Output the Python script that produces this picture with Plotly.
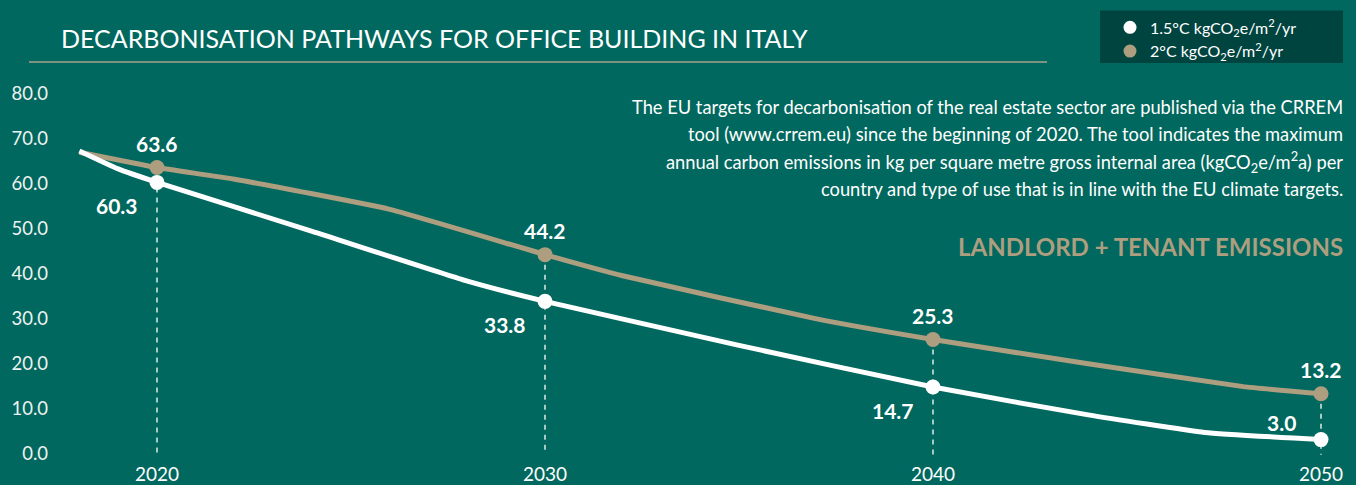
import plotly.graph_objects as go

# ---------------- data ----------------
years_15 = [2018, 2019, 2020, 2024, 2028, 2030, 2035, 2040, 2044, 2047, 2050]
vals_15 = [67.3, 63.3, 60.3, 49.4, 38.3, 33.8, 24.0, 14.7, 8.5, 4.6, 3.0]

years_2 = [2018, 2020, 2022, 2026, 2030, 2032, 2037, 2040, 2044, 2048, 2050]
vals_2 = [67.0, 63.6, 61.0, 54.3, 44.2, 39.5, 29.9, 25.3, 19.9, 14.8, 13.2]

label_years = [2020, 2030, 2040, 2050]
label_15 = [60.3, 33.8, 14.7, 3.0]
label_2 = [63.6, 44.2, 25.3, 13.2]

y_ticks = [0, 10, 20, 30, 40, 50, 60, 70, 80]
y_ticktext = ["0.0", "10.0", "20.0", "30.0", "40.0", "50.0", "60.0", "70.0", "80.0"]
x_ticks = [2020, 2030, 2040, 2050]
x_ticktext = ["2020", "2030", "2040", "2050"]

title_text = "DECARBONISATION PATHWAYS FOR OFFICE BUILDING IN ITALY"
para_lines = [
    "The EU targets for decarbonisation of the real estate sector are published via the CRREM",
    "tool (www.crrem.eu) since the beginning of 2020. The tool indicates the maximum",
    "annual carbon emissions in kg per square metre gross internal area (kgCO<sub>2</sub>e/m<sup>2</sup>a) per",
    "country and type of use that is in line with the EU climate targets.",
]
subtitle = "LANDLORD + TENANT EMISSIONS"
legend_15 = "1.5°C kgCO<sub>2</sub>e/m<sup>2</sup>/yr"
legend_2 = "2°C kgCO<sub>2</sub>e/m<sup>2</sup>/yr"

# ---------------- style ----------------
BG = "#00685E"
DARK = "#00443F"
BEIGE = "#AE9E80"
WHITE = "#FFFFFF"
FONT = "Lato"

W, H = 1356, 485
L, R, T, B = 49, 0, 85, 22
PW, PH = W - L - R, H - T - B
PX_PER_YEAR = 38.8
PX_PER_UNIT = 4.5125
X2020_PX, Y0_PX = 157, 455

x_range = [2020 - (X2020_PX - L) / PX_PER_YEAR, 2020 + (W - R - X2020_PX) / PX_PER_YEAR]
y_range = [-((H - B) - Y0_PX) / PX_PER_UNIT, (Y0_PX - T) / PX_PER_UNIT]


def px_x(px):
    return (px - L) / PW


def px_y(py):
    return ((H - B) - py) / PH


fig = go.Figure()

# dashed drop lines
dx, dy = [], []
for yr, top in zip(label_years, label_2):
    dx += [yr, yr, None]
    dy += [top, -0.4, None]
fig.add_trace(go.Scatter(x=dx, y=dy, mode="lines",
                         line=dict(color=WHITE, width=1.3, dash="5px,5px"),
                         showlegend=False, hoverinfo="skip"))

# lines
fig.add_trace(go.Scatter(x=years_2, y=vals_2, mode="lines",
                         line=dict(color=BEIGE, width=5, shape="spline", smoothing=0.4),
                         showlegend=False))
fig.add_trace(go.Scatter(x=years_15, y=vals_15, mode="lines",
                         line=dict(color=WHITE, width=5, shape="spline", smoothing=0.4),
                         showlegend=False))

# markers
fig.add_trace(go.Scatter(x=label_years, y=label_2, mode="markers",
                         marker=dict(color=BEIGE, size=15), showlegend=False))
fig.add_trace(go.Scatter(x=label_years, y=label_15, mode="markers",
                         marker=dict(color=WHITE, size=15), showlegend=False))

# legend-only traces
fig.add_trace(go.Scatter(x=[None], y=[None], mode="markers", name=legend_15,
                         marker=dict(color=WHITE, size=13)))
fig.add_trace(go.Scatter(x=[None], y=[None], mode="markers", name=legend_2,
                         marker=dict(color=BEIGE, size=13)))

annotations = []
# value labels
for yr, v in zip(label_years, label_2):
    annotations.append(dict(x=yr, y=v, xref="x", yref="y", text=f"<b>{v:.1f}</b>",
                            showarrow=False, yshift=24,
                            font=dict(family=FONT, size=21, color=WHITE)))
for i, (yr, v) in enumerate(zip(label_years, label_15)):
    ys = 17 if i == 3 else -23
    annotations.append(dict(x=yr, y=v, xref="x", yref="y", text=f"<b>{v:.1f}</b>",
                            showarrow=False, xshift=-40, yshift=ys,
                            font=dict(family=FONT, size=21, color=WHITE)))

# title
annotations.append(dict(x=px_x(59), y=px_y(38), xref="paper", yref="paper",
                        xanchor="left", yanchor="middle", text=title_text, showarrow=False,
                        font=dict(family=FONT, size=25, color=WHITE)))
# paragraph
for i, line in enumerate(para_lines):
    annotations.append(dict(x=px_x(1345), y=px_y(107 + i * 27.5), xref="paper", yref="paper",
                            xanchor="right", yanchor="middle", align="right", text=line,
                            showarrow=False,
                            font=dict(family=FONT, size=18.3, color=WHITE)))
annotations.append(dict(x=px_x(1345), y=px_y(247), xref="paper", yref="paper",
                        xanchor="right", yanchor="middle", text=f"<b>{subtitle}</b>",
                        showarrow=False, font=dict(family=FONT, size=24, color=BEIGE)))

shapes = [
    dict(type="line", xref="paper", yref="paper", x0=px_x(29), x1=px_x(1047),
         y0=px_y(62), y1=px_y(62), line=dict(color="#A9A08C", width=1.5)),
    dict(type="rect", xref="paper", yref="paper", x0=px_x(1100), x1=px_x(1343),
         y0=px_y(63), y1=px_y(10), fillcolor=DARK, line=dict(width=0), layer="below"),
]

fig.update_layout(
    width=W, height=H,
    margin=dict(l=L, r=R, t=T, b=B, pad=0),
    paper_bgcolor=BG, plot_bgcolor=BG,
    font=dict(family=FONT, color=WHITE),
    showlegend=True,
    legend=dict(x=px_x(1110), y=px_y(10), xanchor="left", yanchor="top",
                bgcolor="rgba(0,0,0,0)", font=dict(family=FONT, size=16, color=WHITE),
                itemwidth=30, tracegroupgap=0),
    annotations=annotations,
    shapes=shapes,
    xaxis=dict(range=x_range, tickvals=x_ticks, ticktext=x_ticktext, showgrid=False,
               zeroline=False, showline=False, ticks="", ticklen=0,
               tickfont=dict(family=FONT, size=19, color=WHITE), fixedrange=True),
    yaxis=dict(range=y_range, tickvals=y_ticks, ticktext=y_ticktext, showgrid=False,
               zeroline=False, showline=False, ticks="", ticklen=0,
               tickfont=dict(family=FONT, size=18.5, color="#EEF3F2"), fixedrange=True),
)

fig.write_html("out.html", config={"displayModeBar": False},
               post_script="document.body.style.margin='0';document.body.style.overflow='hidden';")
